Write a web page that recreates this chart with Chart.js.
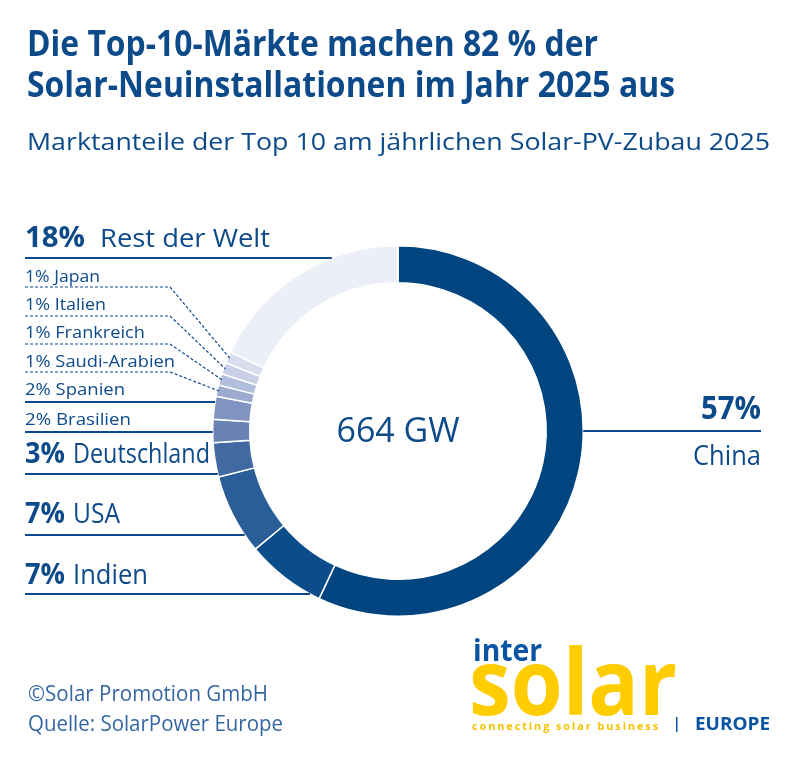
<!DOCTYPE html>
<html>
<head>
<meta charset="utf-8">
<script src="https://cdn.jsdelivr.net/npm/chart.js@4.4.1/dist/chart.umd.min.js"></script>
<style>
  html, body { margin: 0; padding: 0; background: #ffffff; }
  #wrap { width: 803px; height: 783px; position: relative; }
  canvas { display: block; }
</style>
</head>
<body>
<div id="wrap"><canvas id="c" width="803" height="783"></canvas></div>
<script>
// ---- DATA ----
const categories = ['China', 'Indien', 'USA', 'Deutschland', 'Brasilien', 'Spanien',
                    'Saudi-Arabien', 'Frankreich', 'Italien', 'Japan', 'Rest der Welt'];
const shares = [57, 7, 7, 3, 2, 2, 1, 1, 1, 1, 18];
const totalCapacity = '664 GW';
const titleLines = ['Die Top-10-Märkte machen 82 % der', 'Solar-Neuinstallationen im Jahr 2025 aus'];
const subtitle = 'Marktanteile der Top 10 am jährlichen Solar-PV-Zubau 2025';
const footerLines = ['©Solar Promotion GmbH', 'Quelle: SolarPower Europe'];

// ---- STYLE ----
const sliceColors = ['#00457f', '#0a4d8a', '#2a5e98', '#4369a3', '#6882b4', '#8194c1',
                     '#9caacf', '#b3bedc', '#c8cfe6', '#d9deee', '#eceff7'];
const TXT = '#0d4a8a';
const FONT = '"Open Sans", "Noto Sans", sans-serif';

// label layout (index into categories): style, baselines, line y
const labelLayout = [
  { i: 0, side: 'right', pctY: 419, nameY: 465, lineY: 431, pctW: 60, nameW: 68 },
  { i: 10, side: 'left', kind: 'big', y: 247, lineY: 258, pctSize: 28, nameSize: 25, pctW: 60, nameW: 170, nameX: 100 },
  { i: 3, side: 'left', kind: 'big', y: 463, lineY: 474, pctSize: 29, nameSize: 27, pctW: 40, nameW: 137, nameX: 73 },
  { i: 2, side: 'left', kind: 'big', y: 523, lineY: 535, pctSize: 29, nameSize: 27, pctW: 40, nameW: 47, nameX: 73 },
  { i: 1, side: 'left', kind: 'big', y: 584, lineY: 594, pctSize: 29, nameSize: 27, pctW: 40, nameW: 75, nameX: 73 },
  { i: 9, side: 'left', kind: 'dash', y: 282, lineY: 287, w: 75 },
  { i: 8, side: 'left', kind: 'dash', y: 310, lineY: 316, w: 81 },
  { i: 7, side: 'left', kind: 'dash', y: 338, lineY: 344, w: 120 },
  { i: 6, side: 'left', kind: 'dash', y: 367, lineY: 372, w: 150 },
  { i: 5, side: 'left', kind: 'solid', y: 395, lineY: 402, w: 100 },
  { i: 4, side: 'left', kind: 'solid', y: 425, lineY: 432, w: 106 }
];

function drawText(ctx, text, x, y, font, color, opts) {
  opts = opts || {};
  ctx.save();
  ctx.font = font;
  if (opts.spacing) ctx.letterSpacing = opts.spacing;
  ctx.fillStyle = color;
  ctx.textBaseline = 'alphabetic';
  ctx.textAlign = opts.align || 'left';
  const w = ctx.measureText(text).width;
  let sx = opts.width ? opts.width / w : 1;
  if (opts.width) { sx = Math.max(0.6, Math.min(1.5, sx)); }
  ctx.translate(x, y);
  ctx.scale(sx, 1);
  ctx.fillText(text, 0, 0);
  ctx.restore();
}

const decor = {
  id: 'decor',
  afterDraw(chart) {
    const ctx = chart.ctx;
    const meta = chart.getDatasetMeta(0);
    const arc0 = meta.data[0];
    const cx = arc0.x, cy = arc0.y, R = arc0.outerRadius;

    // Titles
    drawText(ctx, titleLines[0], 27, 56, 'bold 35px ' + FONT, TXT, { width: 571 });
    drawText(ctx, titleLines[1], 27, 97, 'bold 35px ' + FONT, TXT, { width: 648 });
    drawText(ctx, subtitle, 27, 150, '24px ' + FONT, TXT, { width: 743 });

    // center
    drawText(ctx, totalCapacity, cx, cy + 11, '34px ' + FONT, TXT, { align: 'center', width: 123 });

    const edgeX = (y, side) => {
      const dy = y - cy;
      const d = Math.sqrt(Math.max(R * R - dy * dy, 0));
      return side === 'right' ? cx + d : cx - d;
    };

    labelLayout.forEach(L => {
      const pct = shares[L.i] + '%';
      const name = categories[L.i];
      ctx.save();
      ctx.strokeStyle = TXT;
      if (L.side === 'right') {
        const x1 = 761;
        ctx.lineWidth = 2;
        ctx.beginPath(); ctx.moveTo(edgeX(L.lineY, 'right'), L.lineY); ctx.lineTo(x1, L.lineY); ctx.stroke();
        drawText(ctx, pct, x1, L.pctY, 'bold 32px ' + FONT, TXT, { align: 'right', width: L.pctW });
        drawText(ctx, name, x1, L.nameY, '27px ' + FONT, TXT, { align: 'right', width: L.nameW });
      } else if (L.kind === 'big') {
        ctx.lineWidth = 2;
        ctx.beginPath(); ctx.moveTo(25, L.lineY); ctx.lineTo(edgeX(L.lineY, 'left'), L.lineY); ctx.stroke();
        drawText(ctx, pct, 25, L.y, 'bold ' + L.pctSize + 'px ' + FONT, TXT, { width: L.pctW });
        drawText(ctx, name, L.nameX, L.y, L.nameSize + 'px ' + FONT, TXT, { width: L.nameW });
      } else if (L.kind === 'solid') {
        ctx.lineWidth = 2;
        ctx.beginPath(); ctx.moveTo(25, L.lineY); ctx.lineTo(edgeX(L.lineY, 'left'), L.lineY); ctx.stroke();
        drawText(ctx, pct + ' ' + name, 25, L.y, '17px ' + FONT, TXT, { width: L.w });
      } else {
        const a = meta.data[L.i];
        const mid = (a.startAngle + a.endAngle) / 2;
        const tx = cx + Math.cos(mid) * (R - 2);
        const ty = cy + Math.sin(mid) * (R - 2);
        ctx.lineWidth = 1.2;
        ctx.setLineDash([3, 2]);
        ctx.beginPath(); ctx.moveTo(25, L.lineY); ctx.lineTo(170, L.lineY); ctx.lineTo(tx, ty); ctx.stroke();
        drawText(ctx, pct + ' ' + name, 25, L.y, '17px ' + FONT, TXT, { width: L.w });
      }
      ctx.restore();
    });

    // footer
    drawText(ctx, footerLines[0], 28, 701, '22px ' + FONT, '#3566a3', { width: 240 });
    drawText(ctx, footerLines[1], 28, 731, '22px ' + FONT, '#3566a3', { width: 255 });

    // logo
    drawText(ctx, 'inter', 473, 661, 'bold 30px ' + FONT, '#0a55a3', { width: 69 });
    drawText(ctx, 'solar', 469, 715, 'bold 92px ' + FONT, '#ffcc00', { width: 208 });
    drawText(ctx, 'connecting solar business', 472, 730, 'bold 11px ' + FONT, '#f5c200', { width: 188, spacing: '2px' });
    ctx.save();
    ctx.fillStyle = '#0a55a3';
    ctx.fillRect(676, 717, 1.5, 15);
    ctx.restore();
    drawText(ctx, 'EUROPE', 695, 730, 'bold 17px ' + FONT, '#0a55a3', { width: 75 });
  }
};

new Chart(document.getElementById('c'), {
  type: 'doughnut',
  data: {
    labels: categories,
    datasets: [{
      data: shares,
      backgroundColor: sliceColors,
      borderColor: '#ffffff',
      borderWidth: 1.5,
      hoverOffset: 0
    }]
  },
  options: {
    responsive: false,
    animation: false,
    devicePixelRatio: 1,
    cutout: '80%',
    layout: { padding: { left: 212, right: 219, top: 245, bottom: 166 } },
    plugins: { legend: { display: false }, tooltip: { enabled: false }, title: { display: false } }
  },
  plugins: [decor]
});
</script>
</body>
</html>
